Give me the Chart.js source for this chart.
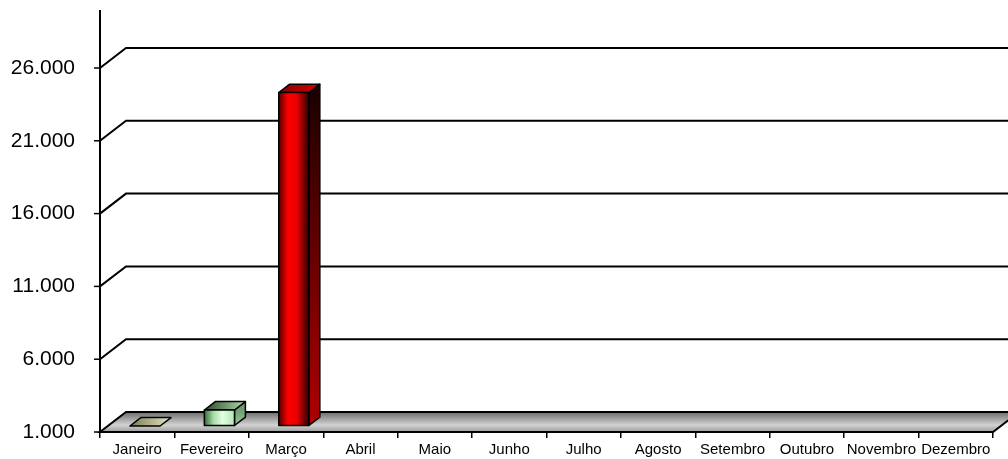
<!DOCTYPE html>
<html>
<head>
<meta charset="utf-8">
<script src="https://cdn.jsdelivr.net/npm/chart.js@4.4.1/dist/chart.umd.min.js"></script>
<style>
  html, body { margin: 0; background: #fff; }
  #wrap { width: 1008px; height: 459px; }
</style>
</head>
<body>
<div id="wrap"><canvas id="c"></canvas></div>
<script>
const meses = ['Janeiro', 'Fevereiro', 'Março', 'Abril', 'Maio', 'Junho', 'Julho', 'Agosto', 'Setembro', 'Outubro', 'Novembro', 'Dezembro'];
const valores = [1000, 2100, 23900, null, null, null, null, null, null, null, null, null];
const yTicks = [1000, 6000, 11000, 16000, 21000, 26000];

// cores de cada barra (frente, lateral, topo)
const paleta = [
  {front: ['#6e6e4a', '#b8b890', '#e8e8cc', '#c8c8a8'], side: ['#8c8c6a', '#b0b090'], top: ['#7a7a52', '#e6e6c6']},
  {front: ['#3a683a', '#a6dca6', '#e2ffe2', '#b4e4b4'], side: ['#6e9e6e', '#98c898'], top: ['#2a4a2a', '#b0dcb0']},
  {front: ['#500000', '#ff0000', '#e80000', '#2a0000'], side: ['#1e0000', '#b00000'], top: ['#8a0000', '#d00000']},
];

const DX = 26, DY = -20;        // profundidade total do piso
const F0 = 0.3, F1 = 0.72;      // posição das barras na profundidade
const TICK = 6;                 // tamanho do traço do eixo Y
const fmt = v => String(v).replace(/\B(?=(\d{3})+(?!\d))/g, '.');

const wall = {
  id: 'wall3d',
  beforeDatasetsDraw(chart) {
    const {ctx, chartArea, scales} = chart;
    const {left, right, top, bottom} = chartArea;
    const y = scales.y;
    const W = chart.width;
    ctx.save();
    ctx.strokeStyle = '#000';
    ctx.lineWidth = 2;
    ctx.lineJoin = 'miter';

    const yb = y.getPixelForValue(yTicks[0]);
    const g = ctx.createLinearGradient(0, yb + DY, 0, yb);
    g.addColorStop(0, '#6a6a6a');
    g.addColorStop(0.2, '#8c8c8c');
    g.addColorStop(0.65, '#d2d2d2');
    g.addColorStop(1, '#9c9c9c');
    ctx.fillStyle = g;
    ctx.beginPath();
    ctx.moveTo(left, yb);
    ctx.lineTo(right, yb);
    ctx.lineTo(right + DX, yb + DY);
    ctx.lineTo(left + DX, yb + DY);
    ctx.closePath();
    ctx.fill();
    ctx.stroke();

    yTicks.slice(1).forEach(v => {
      const py = y.getPixelForValue(v);
      ctx.beginPath();
      ctx.moveTo(left, py);
      ctx.lineTo(left + DX, py + DY);
      ctx.lineTo(W, py + DY);
      ctx.stroke();
    });

    // traços do eixo Y
    ctx.lineWidth = 1.5;
    yTicks.forEach(v => {
      const py = y.getPixelForValue(v);
      ctx.beginPath();
      ctx.moveTo(left - TICK, py);
      ctx.lineTo(left, py);
      ctx.stroke();
    });

    ctx.lineWidth = 2;
    ctx.beginPath();
    ctx.moveTo(left, bottom);
    ctx.lineTo(left, top - 58);
    ctx.stroke();
    ctx.restore();
  }
};

const bars3d = {
  id: 'bars3d',
  afterDatasetsDraw(chart) {
    const {ctx} = chart;
    const meta = chart.getDatasetMeta(0);
    const dx = DX * (F1 - F0), dy = DY * (F1 - F0);
    ctx.save();
    ctx.strokeStyle = '#000';
    ctx.lineWidth = 1.5;
    ctx.lineJoin = 'round';
    meta.data.forEach((el, i) => {
      if (valores[i] == null) return;
      const pal = paleta[i];
      const x0 = el.x - el.width / 2 + DX * F0;
      const x1 = x0 + el.width;
      const yt = el.y + DY * F0;
      const yb = el.base + DY * F0;

      if (yb - yt > 0.5) {
        // lateral
        const gs = ctx.createLinearGradient(0, yt, 0, yb);
        gs.addColorStop(0, pal.side[0]);
        gs.addColorStop(1, pal.side[1]);
        ctx.fillStyle = gs;
        ctx.beginPath();
        ctx.moveTo(x1, yb);
        ctx.lineTo(x1 + dx, yb + dy);
        ctx.lineTo(x1 + dx, yt + dy);
        ctx.lineTo(x1, yt);
        ctx.closePath();
        ctx.fill();
        ctx.stroke();
      }

      // topo
      const gt = ctx.createLinearGradient(x0, 0, x1 + dx, 0);
      gt.addColorStop(0, pal.top[0]);
      gt.addColorStop(1, pal.top[1]);
      ctx.fillStyle = gt;
      ctx.beginPath();
      ctx.moveTo(x0, yt);
      ctx.lineTo(x1, yt);
      ctx.lineTo(x1 + dx, yt + dy);
      ctx.lineTo(x0 + dx, yt + dy);
      ctx.closePath();
      ctx.fill();
      ctx.stroke();

      if (yb - yt > 0.5) {
        // frente
        const gf = ctx.createLinearGradient(x0, 0, x1, 0);
        gf.addColorStop(0, pal.front[0]);
        gf.addColorStop(0.3, pal.front[1]);
        gf.addColorStop(0.6, pal.front[2]);
        gf.addColorStop(1, pal.front[3]);
        ctx.fillStyle = gf;
        ctx.beginPath();
        ctx.rect(x0, yt, x1 - x0, yb - yt);
        ctx.fill();
        ctx.stroke();
      }
    });
    ctx.restore();
  }
};

new Chart(document.getElementById('c'), {
  type: 'bar',
  data: {
    labels: meses,
    datasets: [{
      data: valores,
      base: yTicks[0],
      backgroundColor: 'rgba(0,0,0,0)',
      borderWidth: 0,
      barPercentage: 0.405,
      categoryPercentage: 1
    }]
  },
  plugins: [wall, bars3d],
  options: {
    responsive: true,
    maintainAspectRatio: false,
    animation: false,
    layout: {padding: {top: 68, right: 15, bottom: 0, left: 0}},
    plugins: {legend: {display: false}, tooltip: {enabled: false}},
    scales: {
      x: {
        afterFit: s => { s.height = 27; },
        border: {display: false},
        grid: {offset: true, drawOnChartArea: false, tickLength: 6, color: '#000', lineWidth: 1.5},
        ticks: {color: '#000', font: {family: 'Liberation Sans', size: 15}, padding: 3, maxRotation: 0, autoSkip: false}
      },
      y: {
        min: 1000,
        max: 26000,
        afterFit: s => { s.width = 100; },
        afterBuildTicks: s => { s.ticks = yTicks.map(v => ({value: v})); },
        border: {display: false},
        grid: {drawOnChartArea: false, tickLength: 25, color: 'rgba(0,0,0,0)'},
        ticks: {color: '#000', font: {family: 'Liberation Sans', size: 21}, padding: 0, callback: v => fmt(v)}
      }
    }
  }
});
</script>
</body>
</html>
